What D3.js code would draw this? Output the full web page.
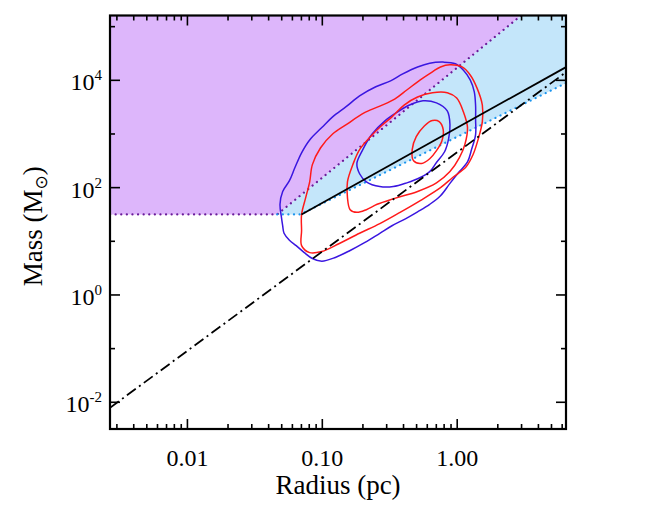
<!DOCTYPE html>
<html>
<head>
<meta charset="utf-8">
<script src="https://cdn.jsdelivr.net/npm/d3@7"></script>
<style>
  body { margin: 0; background: #fff; }
  text { font-family: "Liberation Serif", "Times New Roman", serif; fill: #000; }
</style>
</head>
<body>
<div id="container"></div>
<script>
const width = 648;
const height = 532;
const plot = {left: 110, right: 566, top: 15.5, bottom: 429};

const radiusDomain = [0.00269, 6.46];
const massDomain = [0.00311, 1.58e5];
const xMajorTicks = [0.01, 0.1, 1];
const xTickLabels = ['0.01', '0.10', '1.00'];
const yMajorTicks = [1e-2, 1, 1e2, 1e4];
const yTickExponents = ['-2', '0', '2', '4'];
const yMinorTicks = [1e-1, 1e1, 1e3, 1e5];

// mass threshold and power laws, M = norm * R^slope
const massThreshold = 31;
const purpleLaw = {norm: 16600, slope: 2.05};
const blueLaw = {norm: 857, slope: 1.243};
const solidLaw = {norm: 1265, slope: 1.40};
const larsonLaw = {norm: 440, slope: 1.85};

// contours as [log10 R, log10 M]
const blueOuter = [[-0.10,4.33],[-0.01,4.30],[0.05,4.18],[0.10,4.00],[0.13,3.78],[0.14,3.52],[0.14,3.26],[0.14,2.98],
  [0.11,2.70],[0.08,2.47],[0.02,2.29],[-0.05,2.07],[-0.12,1.84],[-0.20,1.68],[-0.29,1.54],[-0.38,1.41],[-0.48,1.28],
  [-0.57,1.14],[-0.68,0.97],[-0.79,0.82],[-0.90,0.69],[-1.00,0.62],[-1.07,0.67],[-1.13,0.78],[-1.19,0.91],[-1.24,1.01],
  [-1.28,1.14],[-1.29,1.28],[-1.30,1.45],[-1.31,1.68],[-1.29,1.92],[-1.24,2.12],[-1.20,2.36],[-1.15,2.64],[-1.09,2.88],
  [-1.00,3.11],[-0.92,3.31],[-0.82,3.50],[-0.72,3.70],[-0.60,3.87],[-0.49,3.98],[-0.40,4.11],[-0.29,4.24],[-0.20,4.31]];
const blueInner = [[-0.25,3.61],[-0.15,3.57],[-0.07,3.42],[-0.05,3.16],[-0.06,2.90],[-0.09,2.66],[-0.15,2.46],[-0.20,2.29],
  [-0.27,2.18],[-0.37,2.08],[-0.47,2.01],[-0.57,2.01],[-0.67,2.10],[-0.72,2.25],[-0.74,2.44],[-0.70,2.68],[-0.63,2.98],
  [-0.53,3.24],[-0.44,3.40],[-0.35,3.53]];
const redOuter = [[-0.05,4.28],[0.04,4.24],[0.10,4.09],[0.15,3.85],[0.19,3.53],[0.19,3.22],[0.16,2.90],[0.12,2.60],
  [0.07,2.38],[-0.03,2.18],[-0.12,1.99],[-0.27,1.75],[-0.42,1.53],[-0.57,1.32],[-0.72,1.14],[-0.87,0.95],[-1.00,0.80],
  [-1.09,0.78],[-1.15,0.91],[-1.15,1.19],[-1.15,1.49],[-1.12,1.80],[-1.09,2.10],[-1.07,2.42],[-1.01,2.73],[-0.92,2.99],
  [-0.81,3.18],[-0.69,3.38],[-0.57,3.51],[-0.46,3.64],[-0.37,3.81],[-0.27,4.00],[-0.18,4.15],[-0.12,4.24]];
const redMiddle = [[-0.18,3.76],[-0.07,3.76],[0.00,3.66],[0.05,3.40],[0.08,3.11],[0.06,2.79],[0.02,2.55],[-0.05,2.29],
  [-0.15,2.08],[-0.29,1.92],[-0.46,1.79],[-0.59,1.68],[-0.67,1.58],[-0.74,1.53],[-0.79,1.58],[-0.81,1.81],[-0.81,2.10],
  [-0.77,2.42],[-0.72,2.70],[-0.64,2.94],[-0.56,3.14],[-0.48,3.31],[-0.39,3.53],[-0.29,3.68]];
const redInner = [[-0.18,3.24],[-0.13,3.22],[-0.10,3.07],[-0.11,2.86],[-0.15,2.68],[-0.20,2.53],[-0.26,2.44],[-0.32,2.49],
  [-0.33,2.70],[-0.30,2.94],[-0.24,3.14]];

const svg = d3.select('#container')
  .append('svg')
  .attr('width', width)
  .attr('height', height);

const xScale = d3.scaleLog().domain(radiusDomain).range([plot.left, plot.right]);
const yScale = d3.scaleLog().domain(massDomain).range([plot.bottom, plot.top]);

svg.append('clipPath').attr('id', 'clip')
  .append('rect')
  .attr('x', plot.left).attr('y', plot.top)
  .attr('width', plot.right - plot.left).attr('height', plot.bottom - plot.top);

const g = svg.append('g').attr('clip-path', 'url(#clip)');

const law = (p) => (r) => p.norm * Math.pow(r, p.slope);
const inverse = (p, m) => Math.pow(m / p.norm, 1 / p.slope);
const line = d3.line().x(d => xScale(d[0])).y(d => yScale(d[1]));

const [rMin, rMax] = radiusDomain;
const mMax = massDomain[1];
const rPurple = inverse(purpleLaw, massThreshold);
const rTop = inverse(purpleLaw, mMax);
const rBlue = inverse(blueLaw, massThreshold);
const rSolid = inverse(solidLaw, massThreshold);

// purple zone
g.append('path')
  .attr('d', line([[rMin, massThreshold], [rPurple, massThreshold], [rTop, mMax], [rMin, mMax]]) + 'Z')
  .attr('fill', '#ddb6fb');

// blue zone
g.append('path')
  .attr('d', line([[rPurple, massThreshold], [rBlue, massThreshold], [rMax, law(blueLaw)(rMax)],
    [rMax, mMax], [rTop, mMax]]) + 'Z')
  .attr('fill', '#c4e6fa');

// dotted boundaries
g.append('path')
  .attr('d', line([[rMin, massThreshold], [rPurple, massThreshold], [rTop, mMax]]))
  .attr('fill', 'none')
  .attr('stroke', '#6a1b9a')
  .attr('stroke-width', 2.2)
  .attr('stroke-linecap', 'round')
  .attr('stroke-dasharray', '0.1,5.5');

g.append('path')
  .attr('d', line([[rPurple, massThreshold], [rBlue, massThreshold], [rMax, law(blueLaw)(rMax)]]))
  .attr('fill', 'none')
  .attr('stroke', '#1a94ee')
  .attr('stroke-width', 2.2)
  .attr('stroke-linecap', 'round')
  .attr('stroke-dasharray', '0.1,5.5');

// contours
const contour = d3.line()
  .x(d => xScale(Math.pow(10, d[0])))
  .y(d => yScale(Math.pow(10, d[1])))
  .curve(d3.curveCatmullRomClosed.alpha(0.5));

[[blueOuter, '#3a16e0'], [blueInner, '#3a16e0'], [redOuter, '#ff1a1a'], [redMiddle, '#ff1a1a'], [redInner, '#ff1a1a']]
  .forEach(([pts, color]) => {
    g.append('path')
      .attr('d', contour(pts))
      .attr('fill', 'none')
      .attr('stroke', color)
      .attr('stroke-width', 1.5);
  });

// solid and dash-dot relations
g.append('path')
  .attr('d', line([[rSolid, law(solidLaw)(rSolid)], [rMax, law(solidLaw)(rMax)]]))
  .attr('fill', 'none')
  .attr('stroke', '#000')
  .attr('stroke-width', 1.8);

g.append('path')
  .attr('d', line([[rMin, law(larsonLaw)(rMin)], [rMax, law(larsonLaw)(rMax)]]))
  .attr('fill', 'none')
  .attr('stroke', '#000')
  .attr('stroke-width', 1.8)
  .attr('stroke-dasharray', '11,4,2,4');

// axes
const xMinor = xScale.ticks().filter(t => !xMajorTicks.some(m => Math.abs(m - t) < 1e-9));

function addAxis(axis, transform) {
  const a = svg.append('g').attr('transform', transform).call(axis);
  a.select('.domain').remove();
  a.selectAll('line').attr('stroke', '#000').attr('stroke-width', 1.6);
  return a;
}

const xAxisBottom = addAxis(d3.axisBottom(xScale).tickValues(xMajorTicks).tickSizeInner(-10).tickSizeOuter(0)
  .tickPadding(20).tickFormat((d, i) => xTickLabels[i]), 'translate(0,' + plot.bottom + ')');
xAxisBottom.selectAll('text').attr('font-size', 24).attr('font-family', '"Liberation Serif", serif');
addAxis(d3.axisBottom(xScale).tickValues(xMinor).tickSizeInner(-5).tickSizeOuter(0).tickFormat(''),
  'translate(0,' + plot.bottom + ')');
addAxis(d3.axisTop(xScale).tickValues(xMajorTicks).tickSizeInner(-10).tickSizeOuter(0).tickFormat(''),
  'translate(0,' + plot.top + ')');
addAxis(d3.axisTop(xScale).tickValues(xMinor).tickSizeInner(-5).tickSizeOuter(0).tickFormat(''),
  'translate(0,' + plot.top + ')');

const yAxisLeft = addAxis(d3.axisLeft(yScale).tickValues(yMajorTicks).tickSizeInner(-10).tickSizeOuter(0)
  .tickPadding(8).tickFormat(''), 'translate(' + plot.left + ',0)');
yAxisLeft.selectAll('text')
  .attr('font-size', 24)
  .attr('font-family', '"Liberation Serif", serif')
  .attr('dy', '0.42em')
  .each(function(d, i) {
    const t = d3.select(this);
    t.append('tspan').text('10');
    t.append('tspan').attr('font-size', 15).attr('dy', -10).text(yTickExponents[i]);
  });
addAxis(d3.axisLeft(yScale).tickValues(yMinorTicks).tickSizeInner(-5).tickSizeOuter(0).tickFormat(''),
  'translate(' + plot.left + ',0)');
addAxis(d3.axisRight(yScale).tickValues(yMajorTicks).tickSizeInner(-10).tickSizeOuter(0).tickFormat(''),
  'translate(' + plot.right + ',0)');
addAxis(d3.axisRight(yScale).tickValues(yMinorTicks).tickSizeInner(-5).tickSizeOuter(0).tickFormat(''),
  'translate(' + plot.right + ',0)');

// frame
svg.append('rect')
  .attr('x', plot.left).attr('y', plot.top)
  .attr('width', plot.right - plot.left).attr('height', plot.bottom - plot.top)
  .attr('fill', 'none')
  .attr('stroke', '#000')
  .attr('stroke-width', 2.2);

// axis titles
svg.append('text')
  .attr('x', (plot.left + plot.right) / 2)
  .attr('y', 494)
  .attr('text-anchor', 'middle')
  .attr('font-size', 27)
  .text('Radius (pc)');

const yTitle = svg.append('text')
  .attr('transform', 'translate(42,' + ((plot.top + plot.bottom) / 2 + 4) + ') rotate(-90)')
  .attr('text-anchor', 'middle')
  .attr('font-size', 27);
yTitle.append('tspan').text('Mass (M');
yTitle.append('tspan').attr('font-size', 17).attr('dy', 5).attr('font-family', '"DejaVu Sans", sans-serif').text('\u2299');
yTitle.append('tspan').attr('dy', -5).text(')');
</script>
</body>
</html>
